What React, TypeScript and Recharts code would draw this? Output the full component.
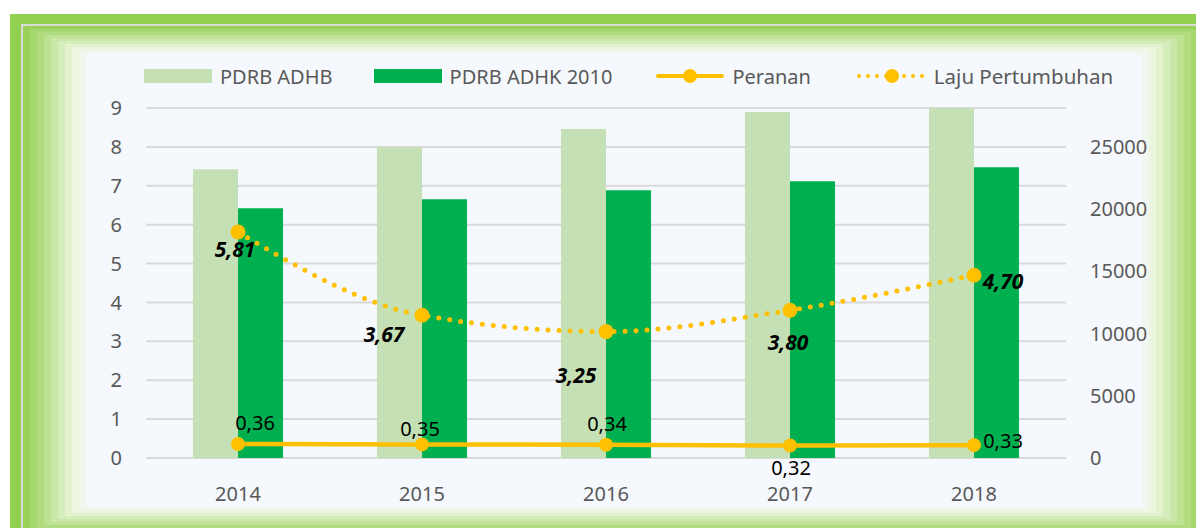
import React from 'react';
import { ComposedChart, Bar, Line, XAxis, YAxis, CartesianGrid, Legend } from 'recharts';

const years = ['2014', '2015', '2016', '2017', '2018'];
const pdrbAdhb = [23200, 24980, 26430, 27800, 29300];
const pdrbAdhk = [20070, 20790, 21520, 22240, 23370];
const peranan = [0.36, 0.35, 0.34, 0.32, 0.33];
const lajuPertumbuhan = [5.81, 3.67, 3.25, 3.8, 4.7];
const leftTicks = [0, 1, 2, 3, 4, 5, 6, 7, 8, 9];
const rightTicks = [0, 5000, 10000, 15000, 20000, 25000];

// label offsets from the point, per year (dx, dy)
const lajuLabelShift = [[-3, 17], [-38, 19], [-30, 43], [-2, 32], [29, 6]];
const perananLabelShift = [[17, -22], [-2, -16], [1, -21], [1, 22], [29, -5]];

const data = years.map((year, i) => ({
  year,
  adhb: pdrbAdhb[i],
  adhk: pdrbAdhk[i],
  peranan: peranan[i],
  laju: lajuPertumbuhan[i],
}));

const GOLD = '#ffc000';
const FONT = '"Noto Sans", sans-serif';
const fmt = (v: number) => v.toFixed(2).replace('.', ',');

// stepped frame colours, outer -> inner
const frameSteps = ['#98d25a', '#a4d76c', '#b0dc7f', '#bde292', '#c9e7a6', '#d5edba', '#e1f2cd', '#ebf5df', '#f1f7ee'];

const Frame = ({ level, children }: { level: number; children: React.ReactNode }) => {
  if (level >= frameSteps.length) return <>{children}</>;
  const c = frameSteps[level];
  const top = level === frameSteps.length - 1 ? 4 : 3;
  return (
    <div style={{ borderStyle: 'solid', borderColor: c, borderWidth: `${top}px 7px 3px 7px`, display: 'block' }}>
      <Frame level={level + 1}>{children}</Frame>
    </div>
  );
};

const LegendBox = () => {
  const text = { fontSize: 20, color: '#595959', marginLeft: 8 };
  return (
    <div style={{ display: 'flex', alignItems: 'center', fontFamily: FONT, whiteSpace: 'nowrap' }}>
      <div style={{ width: 68, height: 14, background: '#c5e0b4' }} />
      <span style={{ ...text, marginRight: 41 }}>PDRB ADHB</span>
      <div style={{ width: 68, height: 14, background: '#00b050' }} />
      <span style={{ ...text, marginRight: 44 }}>PDRB ADHK 2010</span>
      <svg width={68} height={16}>
        <line x1={2} y1={8} x2={66} y2={8} stroke={GOLD} strokeWidth={4} strokeLinecap="round" />
        <circle cx={34} cy={8} r={7} fill={GOLD} />
      </svg>
      <span style={{ ...text, marginRight: 46 }}>Peranan</span>
      <svg width={68} height={16}>
        <line x1={2} y1={8} x2={66} y2={8} stroke={GOLD} strokeWidth={4} strokeLinecap="round" strokeDasharray="0 9" />
        <circle cx={35} cy={8} r={7} fill={GOLD} />
      </svg>
      <span style={{ ...text, marginLeft: 9, fontSize: 20.5 }}>Laju Pertumbuhan</span>
    </div>
  );
};

const makeLabel = (shift: number[][], bold: boolean) => (props: any) => {
  const { x, y, value, index } = props;
  const [dx, dy] = shift[index] || [0, 0];
  return (
    <text
      x={x + dx}
      y={y + dy}
      textAnchor="middle"
      dominantBaseline="central"
      fontSize={bold ? 21 : 20}
      fontFamily={FONT}
      fontWeight={bold ? 700 : 400}
      fontStyle={bold ? 'italic' : 'normal'}
      fill="#000"
    >
      {fmt(Number(value))}
    </text>
  );
};

const App: React.FC = () => {
  const tick = { fill: '#595959', fontSize: 20, fontFamily: FONT };
  return (
    <div style={{ position: 'absolute', left: 10, top: 14, width: 1186, height: 514, overflow: 'hidden', background: '#92d050' }}>
      <div style={{ position: 'absolute', left: 11, top: 10, border: '2px solid #d9dcd4', width: 1182 }}>
        <Frame level={0}>
          <div style={{ width: 1056, height: 453, background: '#f5f8fc', position: 'relative' }}>
            <ComposedChart
              width={1110}
              height={453}
              data={data}
              margin={{ top: 54, right: 54, left: 0, bottom: 0 }}
              barGap={0}
              style={{ fontFamily: FONT, overflow: 'visible' }}
            >
              <CartesianGrid yAxisId="left" vertical={false} stroke="#d9d9d9" strokeWidth={2} />
              <XAxis dataKey="year" axisLine={false} tickLine={false} tick={tick} tickMargin={23} height={49} />
              <YAxis
                yAxisId="left"
                domain={[0, 9]}
                ticks={leftTicks}
                axisLine={false}
                tickLine={false}
                tick={tick}
                tickMargin={18}
                width={60}
              />
              <YAxis
                yAxisId="right"
                orientation="right"
                domain={[0, 28125]}
                ticks={rightTicks}
                allowDataOverflow
                axisLine={false}
                tickLine={false}
                tick={tick}
                tickMargin={18}
                width={76}
              />
              <Legend verticalAlign="middle" wrapperStyle={{ top: 8, left: 58, width: 1040 }} content={() => <LegendBox />} />
              <Bar yAxisId="right" dataKey="adhb" name="PDRB ADHB" fill="#c5e0b4" barSize={45} isAnimationActive={false} />
              <Bar yAxisId="right" dataKey="adhk" name="PDRB ADHK 2010" fill="#00b050" barSize={45} isAnimationActive={false} />
              <Line
                yAxisId="left"
                dataKey="peranan"
                name="Peranan"
                type="linear"
                stroke={GOLD}
                strokeWidth={4.5}
                dot={{ r: 7, fill: GOLD, stroke: GOLD, strokeWidth: 0 }}
                activeDot={false}
                label={makeLabel(perananLabelShift, false)}
                isAnimationActive={false}
              />
              <Line
                yAxisId="left"
                dataKey="laju"
                name="Laju Pertumbuhan"
                type="monotone"
                stroke={GOLD}
                strokeWidth={5}
                strokeLinecap="round"
                strokeDasharray="0 11"
                dot={{ r: 7.5, fill: GOLD, stroke: GOLD, strokeWidth: 0, strokeDasharray: '' }}
                activeDot={false}
                label={makeLabel(lajuLabelShift, true)}
                isAnimationActive={false}
              />
            </ComposedChart>
          </div>
        </Frame>
      </div>
    </div>
  );
};

export default App;
